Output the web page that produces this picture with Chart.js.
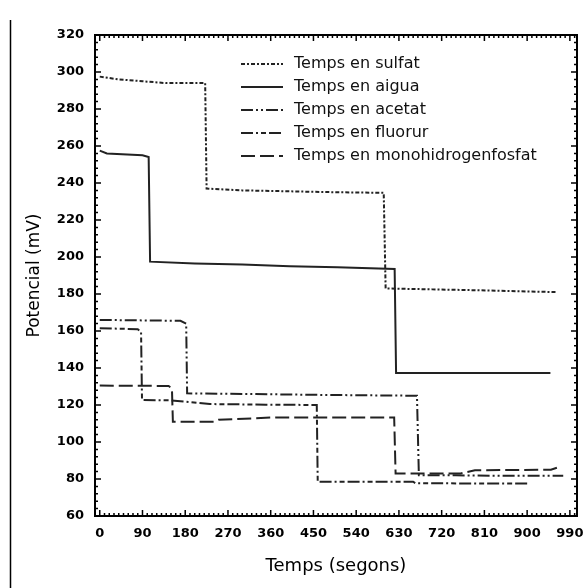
<!DOCTYPE html>
<html><head><meta charset="utf-8">
<script src="https://cdn.jsdelivr.net/npm/chart.js@4/dist/chart.umd.min.js"></script>
<style>html,body{margin:0;padding:0;background:#fff}#wrap{position:relative;width:584px;height:588px}</style>
</head><body><div id="wrap"><canvas id="c" width="584" height="588"></canvas></div>
<script>
// ---- data ----
const seriesNames = ["Temps en sulfat","Temps en aigua","Temps en acetat","Temps en fluorur","Temps en monohidrogenfosfat"];

const sulfatT = [0, 40, 90, 140, 222, 225, 300, 400, 500, 598, 602, 700, 800, 963];
const sulfatV = [297.5, 296, 295, 294, 294, 237, 236, 235.5, 235, 234.7, 183, 182.5, 182, 181];

const aiguaT = [0, 15, 90, 103, 106, 200, 300, 400, 500, 621, 624, 949];
const aiguaV = [257.5, 256, 255, 254, 197.5, 196.5, 196, 195, 194.5, 193.5, 137.3, 137.3];

const acetatT = [0, 170, 182, 184, 300, 450, 668, 672, 750, 860, 976];
const acetatV = [166, 165.5, 164, 126.3, 126, 125.5, 125, 82, 82, 81.7, 81.7];

const fluorurT = [0, 80, 87, 89, 150, 232, 350, 457, 459, 660, 665, 906];
const fluorurV = [161.5, 161, 159.5, 122.7, 122.5, 120.5, 120.2, 120, 78.5, 78.5, 77.7, 77.5];

const fosfatT = [0, 145, 152, 154, 240, 250, 370, 500, 620, 623, 700, 760, 790, 950, 968];
const fosfatV = [130.5, 130.3, 129, 111, 111, 112, 113.3, 113.3, 113.3, 83, 83, 83, 84.7, 85, 86.5];

const xTicks = [0, 90, 180, 270, 360, 450, 540, 630, 720, 810, 900, 990];
const yTicks = [60, 80, 100, 120, 140, 160, 180, 200, 220, 240, 260, 280, 300, 320];

const xTitle = "Temps (segons)";
const yTitle = "Potencial (mV)";

// ---- build ----
const pts = (t, v) => t.map((x, i) => ({x: x, y: v[i]}));
const dashes = [[4,2,2,2], [], [12,3,2,3,2,3], [12,3,2,3,5,3], [14,5]];
const seriesData = [pts(sulfatT, sulfatV), pts(aiguaT, aiguaV), pts(acetatT, acetatV), pts(fluorurT, fluorurV), pts(fosfatT, fosfatV)];

const datasets = seriesData.map((d, i) => ({
  label: seriesNames[i], data: d, borderColor: '#222', borderWidth: 2,
  borderDash: dashes[i], pointRadius: 0, fill: false, tension: 0
}));

const frame = {
  id: 'frame',
  afterDraw(chart) {
    const {ctx, chartArea: a, scales: {x, y}} = chart;
    ctx.save();
    ctx.strokeStyle = '#000';
    ctx.setLineDash([]);
    ctx.lineWidth = 1.5;
    ctx.beginPath(); ctx.moveTo(10.5, 20); ctx.lineTo(10.5, 588); ctx.stroke();
    ctx.lineWidth = 2;
    ctx.strokeRect(a.left, a.top, a.right - a.left, a.bottom - a.top);
    ctx.lineWidth = 1.5;
    for (let v = 0; v <= 1000; v += 10) {
      const px = x.getPixelForValue(v);
      const len = (v % 90 === 0) ? 6 : 3;
      ctx.beginPath();
      ctx.moveTo(px, a.bottom); ctx.lineTo(px, a.bottom - len);
      ctx.moveTo(px, a.top); ctx.lineTo(px, a.top + len);
      ctx.stroke();
    }
    for (let v = 60; v <= 320; v += 4) {
      const py = y.getPixelForValue(v);
      const len = (v % 20 === 0) ? 6 : 3;
      ctx.beginPath();
      ctx.moveTo(a.left, py); ctx.lineTo(a.left + len, py);
      ctx.moveTo(a.right, py); ctx.lineTo(a.right - len, py);
      ctx.stroke();
    }
    ctx.font = '16px "DejaVu Sans"';
    ctx.fillStyle = '#111';
    ctx.textBaseline = 'middle';
    chart.data.datasets.forEach((ds, i) => {
      const cy = 64 + i * 23;
      ctx.setLineDash(ds.borderDash || []);
      ctx.lineWidth = 2;
      ctx.strokeStyle = '#222';
      ctx.beginPath(); ctx.moveTo(241, cy); ctx.lineTo(283, cy); ctx.stroke();
      ctx.setLineDash([]);
      ctx.fillText(ds.label, 294, cy);
    });
    ctx.restore();
  }
};

new Chart(document.getElementById('c'), {
  type: 'line',
  data: {datasets},
  plugins: [frame],
  options: {
    responsive: false, animation: false, devicePixelRatio: 1,
    layout: {padding: {top: 35, right: 7, left: 0, bottom: 0}},
    plugins: {legend: {display: false}, tooltip: {enabled: false}},
    scales: {
      x: {
        type: 'linear', min: -10, max: 1005,
        afterBuildTicks: s => { s.ticks = xTicks.map(v => ({value: v})); },
        afterFit: s => { s.height = 72; s.paddingLeft = 0; s.paddingRight = 0; },
        grid: {display: false, drawTicks: false}, border: {display: false},
        ticks: {padding: 10, color: '#000', maxRotation: 0, autoSkip: false, font: {family: 'DejaVu Sans', weight: 'bold', size: 13}},
        title: {display: true, text: xTitle, color: '#000', font: {family: 'DejaVu Sans', size: 18}, padding: {top: 0, bottom: 11}}
      },
      y: {
        type: 'linear', min: 60, max: 320,
        afterBuildTicks: s => { s.ticks = yTicks.map(v => ({value: v})); },
        afterFit: s => { s.width = 95; s.paddingTop = 0; s.paddingBottom = 0; },
        grid: {display: false, drawTicks: false}, border: {display: false},
        ticks: {padding: 11, color: '#000', autoSkip: false, font: {family: 'DejaVu Sans', weight: 'bold', size: 13}},
        title: {display: true, text: yTitle, color: '#000', font: {family: 'DejaVu Sans', size: 17}, padding: {top: 24, bottom: 0}}
      }
    }
  }
});
</script></body></html>
